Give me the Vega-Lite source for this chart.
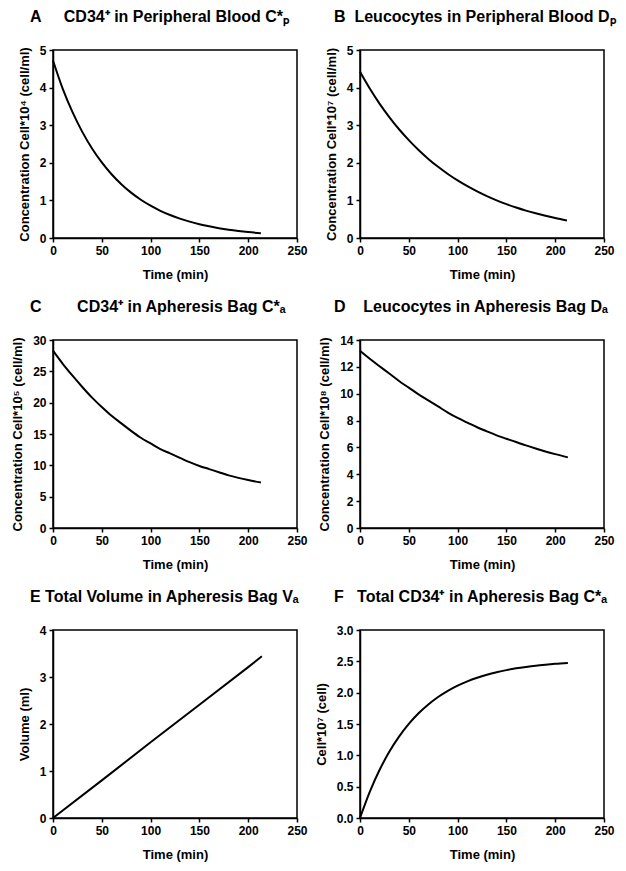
{
  "$schema": "https://vega.github.io/schema/vega-lite/v6.json",
  "background": "white",
  "padding": {"left": 10, "top": 8, "right": 5, "bottom": 5},
  "columns": 2,
  "spacing": {"row": 102, "column": 63},
  "bounds": "flush",
  "datasets": {
    "A": [
      {"t": 0, "v": 4.72}, {"t": 10, "v": 3.965}, {"t": 20, "v": 3.346}, {"t": 30, "v": 2.822},
      {"t": 40, "v": 2.381}, {"t": 50, "v": 2.009}, {"t": 60, "v": 1.695}, {"t": 70, "v": 1.43},
      {"t": 80, "v": 1.206}, {"t": 90, "v": 1.018}, {"t": 100, "v": 0.859}, {"t": 110, "v": 0.724},
      {"t": 120, "v": 0.611}, {"t": 130, "v": 0.516}, {"t": 140, "v": 0.435}, {"t": 150, "v": 0.367},
      {"t": 160, "v": 0.31}, {"t": 170, "v": 0.261}, {"t": 180, "v": 0.22}, {"t": 190, "v": 0.186},
      {"t": 200, "v": 0.157}, {"t": 213, "v": 0.126}
    ],
    "B": [
      {"t": 0, "v": 4.42}, {"t": 10, "v": 3.975}, {"t": 20, "v": 3.575}, {"t": 30, "v": 3.216},
      {"t": 40, "v": 2.892}, {"t": 50, "v": 2.602}, {"t": 60, "v": 2.34}, {"t": 70, "v": 2.104},
      {"t": 80, "v": 1.893}, {"t": 90, "v": 1.703}, {"t": 100, "v": 1.531}, {"t": 110, "v": 1.377},
      {"t": 120, "v": 1.239}, {"t": 130, "v": 1.114}, {"t": 140, "v": 1.002}, {"t": 150, "v": 0.901},
      {"t": 160, "v": 0.811}, {"t": 170, "v": 0.729}, {"t": 180, "v": 0.656}, {"t": 190, "v": 0.59},
      {"t": 200, "v": 0.531}, {"t": 212, "v": 0.467}
    ],
    "C": [
      {"t": 0, "v": 28.3}, {"t": 10, "v": 26.2}, {"t": 20, "v": 24.3}, {"t": 30, "v": 22.5},
      {"t": 40, "v": 20.8}, {"t": 50, "v": 19.3}, {"t": 60, "v": 17.9}, {"t": 70, "v": 16.7},
      {"t": 80, "v": 15.5}, {"t": 90, "v": 14.4}, {"t": 100, "v": 13.5}, {"t": 110, "v": 12.6},
      {"t": 120, "v": 11.9}, {"t": 130, "v": 11.2}, {"t": 140, "v": 10.5}, {"t": 150, "v": 9.9},
      {"t": 160, "v": 9.4}, {"t": 170, "v": 8.9}, {"t": 180, "v": 8.4}, {"t": 190, "v": 8.0},
      {"t": 200, "v": 7.65}, {"t": 213, "v": 7.25}
    ],
    "D": [
      {"t": 0, "v": 13.2}, {"t": 10, "v": 12.6}, {"t": 20, "v": 12.05}, {"t": 30, "v": 11.5},
      {"t": 40, "v": 10.95}, {"t": 50, "v": 10.45}, {"t": 60, "v": 9.95}, {"t": 70, "v": 9.5},
      {"t": 80, "v": 9.05}, {"t": 90, "v": 8.6}, {"t": 100, "v": 8.2}, {"t": 110, "v": 7.85},
      {"t": 120, "v": 7.5}, {"t": 130, "v": 7.2}, {"t": 140, "v": 6.9}, {"t": 150, "v": 6.65},
      {"t": 160, "v": 6.4}, {"t": 170, "v": 6.15}, {"t": 180, "v": 5.92}, {"t": 190, "v": 5.7},
      {"t": 200, "v": 5.5}, {"t": 213, "v": 5.26}
    ],
    "E": [
      {"t": 0, "v": 0}, {"t": 50, "v": 0.8}, {"t": 100, "v": 1.61}, {"t": 150, "v": 2.41},
      {"t": 200, "v": 3.21}, {"t": 214, "v": 3.44}
    ],
    "F": [
      {"t": 0, "v": 0}, {"t": 10, "v": 0.417}, {"t": 20, "v": 0.765}, {"t": 30, "v": 1.056},
      {"t": 40, "v": 1.298}, {"t": 50, "v": 1.501}, {"t": 60, "v": 1.671}, {"t": 70, "v": 1.812},
      {"t": 80, "v": 1.931}, {"t": 90, "v": 2.029}, {"t": 100, "v": 2.112}, {"t": 110, "v": 2.181},
      {"t": 120, "v": 2.238}, {"t": 130, "v": 2.286}, {"t": 140, "v": 2.326}, {"t": 150, "v": 2.36},
      {"t": 160, "v": 2.388}, {"t": 170, "v": 2.411}, {"t": 180, "v": 2.431}, {"t": 190, "v": 2.447},
      {"t": 200, "v": 2.461}, {"t": 213, "v": 2.475}
    ]
  },
  "concat": [
    {
      "width": 244, "height": 188,
      "title": {"text": "A\u00a0\u00a0\u00a0\u00a0\u00a0CD34⁺ in Peripheral Blood C*ₚ", "dx": -23},
      "data": {"name": "A"},
      "mark": {"type": "line", "color": "black", "strokeWidth": 2, "interpolate": "monotone"},
      "encoding": {
        "x": {"field": "t", "type": "quantitative", "scale": {"domain": [0, 250], "nice": false}, "axis": {"values": [0, 50, 100, 150, 200, 250], "title": "Time (min)"}},
        "y": {"field": "v", "type": "quantitative", "scale": {"domain": [0, 5], "nice": false}, "axis": {"values": [0, 1, 2, 3, 4, 5], "title": "Concentration Cell*10⁴ (cell/ml)"}}
      }
    },
    {
      "width": 244, "height": 188,
      "title": {"text": "B\u00a0\u00a0Leucocytes in Peripheral Blood Dₚ", "dx": -26},
      "data": {"name": "B"},
      "mark": {"type": "line", "color": "black", "strokeWidth": 2, "interpolate": "monotone"},
      "encoding": {
        "x": {"field": "t", "type": "quantitative", "scale": {"domain": [0, 250], "nice": false}, "axis": {"values": [0, 50, 100, 150, 200, 250], "title": "Time (min)"}},
        "y": {"field": "v", "type": "quantitative", "scale": {"domain": [0, 5], "nice": false}, "axis": {"values": [0, 1, 2, 3, 4, 5], "title": "Concentration Cell*10⁷ (cell/ml)"}}
      }
    },
    {
      "width": 244, "height": 188,
      "title": {"text": "C\u00a0\u00a0\u00a0\u00a0\u00a0\u00a0\u00a0\u00a0CD34⁺ in Apheresis Bag C*ₐ", "dx": -23},
      "data": {"name": "C"},
      "mark": {"type": "line", "color": "black", "strokeWidth": 2, "interpolate": "monotone"},
      "encoding": {
        "x": {"field": "t", "type": "quantitative", "scale": {"domain": [0, 250], "nice": false}, "axis": {"values": [0, 50, 100, 150, 200, 250], "title": "Time (min)"}},
        "y": {"field": "v", "type": "quantitative", "scale": {"domain": [0, 30], "nice": false}, "axis": {"values": [0, 5, 10, 15, 20, 25, 30], "title": "Concentration Cell*10⁵ (cell/ml)"}}
      }
    },
    {
      "width": 244, "height": 188,
      "title": {"text": "D\u00a0\u00a0\u00a0\u00a0Leucocytes in Apheresis Bag Dₐ", "dx": -26},
      "data": {"name": "D"},
      "mark": {"type": "line", "color": "black", "strokeWidth": 2, "interpolate": "monotone"},
      "encoding": {
        "x": {"field": "t", "type": "quantitative", "scale": {"domain": [0, 250], "nice": false}, "axis": {"values": [0, 50, 100, 150, 200, 250], "title": "Time (min)"}},
        "y": {"field": "v", "type": "quantitative", "scale": {"domain": [0, 14], "nice": false}, "axis": {"values": [0, 2, 4, 6, 8, 10, 12, 14], "title": "Concentration Cell*10⁸ (cell/ml)"}}
      }
    },
    {
      "width": 244, "height": 188,
      "title": {"text": "E\u00a0Total Volume in Apheresis Bag Vₐ", "dx": -23},
      "data": {"name": "E"},
      "mark": {"type": "line", "color": "black", "strokeWidth": 2},
      "encoding": {
        "x": {"field": "t", "type": "quantitative", "scale": {"domain": [0, 250], "nice": false}, "axis": {"values": [0, 50, 100, 150, 200, 250], "title": "Time (min)"}},
        "y": {"field": "v", "type": "quantitative", "scale": {"domain": [0, 4], "nice": false}, "axis": {"values": [0, 1, 2, 3, 4], "title": "Volume (ml)"}}
      }
    },
    {
      "width": 244, "height": 188,
      "title": {"text": "F\u00a0\u00a0\u00a0Total CD34⁺ in Apheresis Bag C*ₐ", "dx": -26},
      "data": {"name": "F"},
      "mark": {"type": "line", "color": "black", "strokeWidth": 2, "interpolate": "monotone"},
      "encoding": {
        "x": {"field": "t", "type": "quantitative", "scale": {"domain": [0, 250], "nice": false}, "axis": {"values": [0, 50, 100, 150, 200, 250], "title": "Time (min)"}},
        "y": {"field": "v", "type": "quantitative", "scale": {"domain": [0, 3], "nice": false}, "axis": {"values": [0, 0.5, 1, 1.5, 2, 2.5, 3], "format": ".1f", "title": "Cell*10⁷ (cell)"}}
      }
    }
  ],
  "config": {
    "font": "Liberation Sans",
    "view": {"stroke": "black", "strokeWidth": 1.5},
    "axis": {
      "grid": false,
      "domainColor": "black", "domainWidth": 1.5,
      "tickColor": "black", "tickWidth": 1.5, "tickSize": 4,
      "labelFont": "Liberation Sans", "labelFontWeight": "bold", "labelFontSize": 12, "labelColor": "black",
      "labelFlush": false, "labelOverlap": false, "labelPadding": 3,
      "titleFont": "Liberation Sans", "titleFontWeight": "bold", "titleFontSize": 13, "titleColor": "black"
    },
    "axisX": {"titlePadding": 12},
    "axisY": {"titlePadding": 8},
    "title": {"font": "Liberation Sans", "fontSize": 16, "fontWeight": "bold", "color": "black", "anchor": "start", "frame": "group", "baseline": "bottom", "offset": 19}
  }
}
